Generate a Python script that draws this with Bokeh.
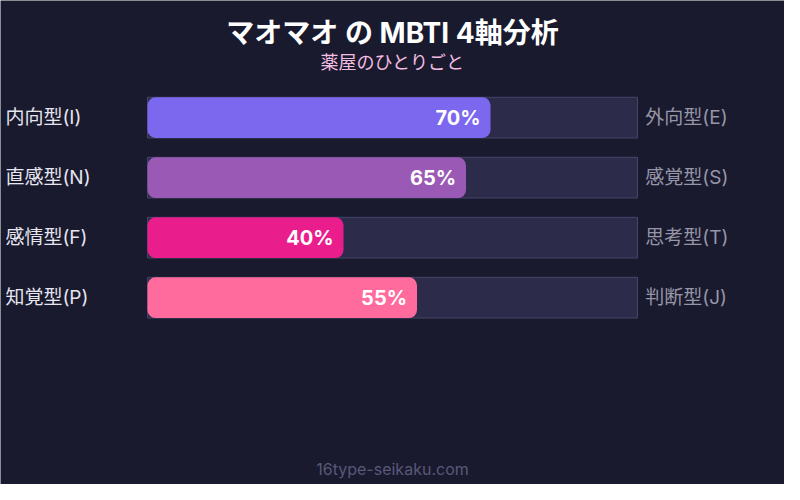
from bokeh.plotting import figure
from bokeh.models import Range1d, ColumnDataSource
from bokeh.core.properties import value
from bokeh.embed import file_html
from bokeh.resources import INLINE

# data
left_labels = ["内向型(I)", "直感型(N)", "感情型(F)", "知覚型(P)"]
right_labels = ["外向型(E)", "感覚型(S)", "思考型(T)", "判断型(J)"]
scores = [70, 65, 40, 55]
colors = ["#7b68ee", "#9b59b6", "#e91e8c", "#ff6b9d"]

title = "マオマオ の MBTI 4軸分析"
subtitle = "薬屋のひとりごと"
footer = "16type-seikaku.com"

FONT = value("Inter, 'Noto Sans CJK JP'")
BG = "#1a1a2e"

rows = list(range(len(scores)))

# rows are 62px apart, first row centred at 121px; bar 0..100% spans 150..650px
def py(px):
    return (px - 121) / 62.0

p = figure(width=784, height=484, output_backend="svg", toolbar_location=None,
           x_range=Range1d(-30, 130), y_range=Range1d(py(500), py(0)),
           min_border=0)
p.axis.visible = False
p.grid.visible = False
p.outline_line_color = None
p.background_fill_color = BG
p.border_fill_color = BG

src = ColumnDataSource(dict(
    y=rows, score=scores, color=colors,
    left=left_labels, right=right_labels,
    pct=[f"{s}%" for s in scores],
    full=[100] * len(scores),
))

# background tracks
p.hbar(y="y", left=0, right="full", height=42 / 62, source=src,
       fill_color="#2c2b49", line_color="#45456b", line_width=1)
# score bars
p.hbar(y="y", left=0, right="score", height=42 / 62, source=src,
       fill_color="color", line_color=None, border_radius=8)

p.text(x="score", y="y", text="pct", source=src, x_offset=-10,
       text_align="right", text_baseline="middle", text_color="white",
       text_font=FONT, text_font_size="20px", text_font_style="bold")

p.text(x=-29, y="y", text="left", source=src, text_align="left",
       text_baseline="middle", text_color="#e6e6f0",
       text_font=FONT, text_font_size="19px")
p.text(x=101.6, y="y", text="right", source=src, text_align="left",
       text_baseline="middle", text_color="#9696a8",
       text_font=FONT, text_font_size="19px")

p.text(x=[50], y=[py(34)], text=[title], text_align="center",
       text_baseline="middle", text_color="white", text_font=FONT,
       text_font_size="28px", text_font_style="bold")
p.text(x=[50], y=[py(64)], text=[subtitle], text_align="center",
       text_baseline="middle", text_color="#f2bde0", text_font=FONT,
       text_font_size="18px")
p.text(x=[50], y=[py(484)], text=[footer], text_align="center",
       text_baseline="middle", text_color="#58587a", text_font=FONT,
       text_font_size="16px")

open("out.html", "w").write(file_html(p, INLINE))
